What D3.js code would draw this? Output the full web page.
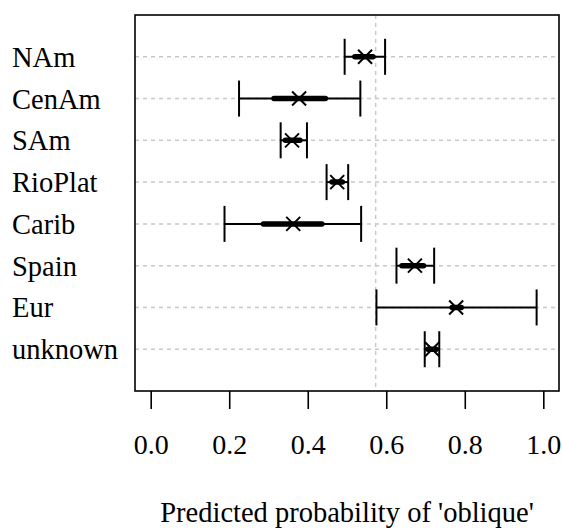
<!DOCTYPE html>
<html><head><meta charset="utf-8">
<script src="https://cdn.jsdelivr.net/npm/d3@7"></script>
<style>body{margin:0;background:#fff}svg{display:block}</style>
</head><body>
<script>
const categories = ["NAm","CenAm","SAm","RioPlat","Carib","Spain","Eur","unknown"];
const estimate = [0.546, 0.378, 0.360, 0.475, 0.363, 0.673, 0.778, 0.717];
const lower95 = [0.494, 0.225, 0.331, 0.448, 0.188, 0.626, 0.575, 0.698];
const upper95 = [0.597, 0.534, 0.398, 0.503, 0.536, 0.722, 0.983, 0.735];
const lower50 = [0.520, 0.314, 0.343, 0.462, 0.287, 0.640, 0.768, 0.706];
const upper50 = [0.566, 0.445, 0.380, 0.488, 0.436, 0.695, 0.791, 0.727];
const refValue = 0.573;
const xTicks = [0, 0.2, 0.4, 0.6, 0.8, 1.0];
const xTitle = "Predicted probability of 'oblique'";

const FONT = "'Liberation Serif', 'Times New Roman', Times, serif";
const W = 562, H = 528;
const L = 135, R = 559, T = 15, B = 391;
const svg = d3.select("body").append("svg").attr("width", W).attr("height", H)
  .attr("font-family", FONT);
const x = d3.scaleLinear().domain([-0.04, 1.04]).range([L, R]);
const y = d3.scaleLinear().domain([0, categories.length + 1]).range([T, B]);
const rows = categories.map((c, i) => ({c, i, est: estimate[i], l95: lower95[i], u95: upper95[i], l50: lower50[i], u50: upper50[i]}));

// horizontal grid
svg.append("g").selectAll("line").data(rows).join("line")
  .attr("x1", L).attr("x2", R)
  .attr("y1", d => y(d.i + 1)).attr("y2", d => y(d.i + 1))
  .attr("stroke", "#c8c8c8").attr("stroke-width", 1.5).attr("stroke-dasharray", "4,4");
// reference line
svg.append("line").attr("x1", x(refValue)).attr("x2", x(refValue)).attr("y1", T).attr("y2", B)
  .attr("stroke", "#c8c8c8").attr("stroke-width", 1.5).attr("stroke-dasharray", "4,4");

const g = svg.append("g").selectAll("g").data(rows).join("g");
g.append("line").attr("x1", d => x(d.l95)).attr("x2", d => x(d.u95))
  .attr("y1", d => y(d.i + 1)).attr("y2", d => y(d.i + 1)).attr("stroke", "#000").attr("stroke-width", 2);
g.append("line").attr("x1", d => x(d.l95)).attr("x2", d => x(d.l95))
  .attr("y1", d => y(d.i + 1) - 18).attr("y2", d => y(d.i + 1) + 18).attr("stroke", "#000").attr("stroke-width", 2);
g.append("line").attr("x1", d => x(d.u95)).attr("x2", d => x(d.u95))
  .attr("y1", d => y(d.i + 1) - 18).attr("y2", d => y(d.i + 1) + 18).attr("stroke", "#000").attr("stroke-width", 2);
g.append("line").attr("x1", d => x(d.l50)).attr("x2", d => x(d.u50))
  .attr("y1", d => y(d.i + 1)).attr("y2", d => y(d.i + 1)).attr("stroke", "#000").attr("stroke-width", 5.5).attr("stroke-linecap", "round");
g.append("path").attr("d", d => {
    const cx = x(d.est), cy = y(d.i + 1), s = 7;
    return `M${cx-s},${cy-s}L${cx+s},${cy+s}M${cx-s},${cy+s}L${cx+s},${cy-s}`;
  }).attr("stroke", "#000").attr("stroke-width", 2).attr("fill", "none");

// category labels
svg.append("g").selectAll("text").data(rows).join("text")
  .attr("x", 12).attr("y", d => y(d.i + 1) + 10)
  .attr("font-family", FONT).attr("font-size", 28.5).attr("fill", "#000").text(d => d.c);

// frame
svg.append("rect").attr("x", L).attr("y", T).attr("width", R - L).attr("height", B - T)
  .attr("fill", "none").attr("stroke", "#000").attr("stroke-width", 1.6);

// x axis
const ax = svg.append("g").attr("transform", `translate(0,${B})`)
  .call(d3.axisBottom(x).tickValues(xTicks).tickFormat(d3.format(".1f")).tickSize(18));
ax.attr("font-family", FONT).attr("font-size", 28);
ax.select(".domain").remove();
ax.selectAll(".tick line").attr("stroke", "#000").attr("stroke-width", 1.6);
ax.selectAll(".tick text").attr("fill", "#000").attr("dy", null).attr("y", 62.5);

svg.append("text").attr("x", (L + R) / 2).attr("y", 521.5).attr("text-anchor", "middle")
  .attr("font-family", FONT).attr("font-size", 28.5).attr("fill", "#000").text(xTitle);
</script>
</body></html>
